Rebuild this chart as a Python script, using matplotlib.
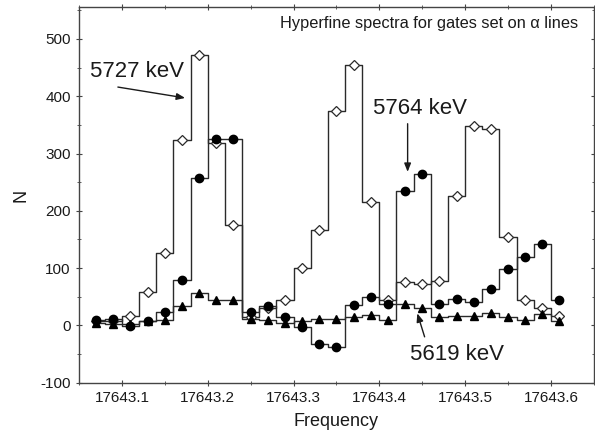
import matplotlib.pyplot as plt
from matplotlib.ticker import MultipleLocator

plt.rcParams['font.family'] = ['Liberation Sans', 'DejaVu Sans']
plt.rcParams['axes.unicode_minus'] = False

# Frequency channels (centres of the steps)
freq = [17643.07, 17643.09, 17643.11, 17643.13, 17643.15, 17643.17, 17643.19,
        17643.21, 17643.23, 17643.25, 17643.27, 17643.29, 17643.31, 17643.33,
        17643.35, 17643.37, 17643.39, 17643.41, 17643.43, 17643.45, 17643.47,
        17643.49, 17643.51, 17643.53, 17643.55, 17643.57, 17643.59, 17643.61]

# counts for each alpha gate
n_5727 = [7, 7, 16, 58, 127, 323, 472, 319, 176, 15, 30, 44, 101, 167,
          374, 455, 215, 44, 76, 73, 77, 225, 348, 342, 154, 45, 31, 16]
n_5764 = [9, 12, -1, 8, 24, 80, 257, 325, 325, 24, 34, 14, -2, -33,
          -37, 35, 50, 38, 234, 264, 37, 46, 41, 64, 98, 120, 142, 45]
n_5619 = [4, 3, 3, 7, 10, 33, 57, 44, 44, 12, 9, 4, 7, 12,
          12, 15, 18, 10, 37, 31, 14, 16, 16, 21, 15, 9, 20, 8]

xticks = [17643.1, 17643.2, 17643.3, 17643.4, 17643.5, 17643.6]
xtick_labels = ['17643.1', '17643.2', '17643.3', '17643.4', '17643.5', '17643.6']

line_col = '#2a2a2a'
text_col = '#1a1a1a'

fig = plt.figure(figsize=(5.95, 4.37), dpi=100)
ax = fig.add_axes([0.1328, 0.1243, 0.8652, 0.8587])

# step lines
for counts in (n_5727, n_5764, n_5619):
    ax.plot(freq, counts, drawstyle='steps-mid', color=line_col, lw=1.0, zorder=2)

# markers at channel centres
ax.plot(freq, n_5727, ls='none', marker='D', ms=5, mfc='white', mec=line_col, mew=0.9, zorder=3)
ax.plot(freq, n_5764, ls='none', marker='o', ms=6, mfc='black', mec='black', zorder=4)
ax.plot(freq, n_5619, ls='none', marker='^', ms=6, mfc='black', mec='black', zorder=5)

ax.set_xlim(17643.05, 17643.65)
ax.set_ylim(-100, 555)
ax.set_xticks(xticks)
ax.set_xticklabels(xtick_labels)
ax.xaxis.set_minor_locator(MultipleLocator(0.05))
ax.yaxis.set_major_locator(MultipleLocator(100))
ax.yaxis.set_minor_locator(MultipleLocator(50))

ax.tick_params(which='both', direction='inout', top=True, right=True,
               color='#444444', labelsize=11, labelcolor=text_col)
ax.tick_params(which='major', length=5)
ax.tick_params(which='minor', length=3)
for s in ax.spines.values():
    s.set_color('#444444')
    s.set_linewidth(1.0)

ax.set_xlabel('Frequency', fontsize=13, color=text_col, labelpad=6)
ax.set_ylabel('N', fontsize=13, color=text_col, labelpad=8)

ax.text(0.969, 0.958, 'Hyperfine spectra for gates set on α lines',
        transform=ax.transAxes, ha='right', va='center', fontsize=11.8, color=text_col)

# peak labels and their arrows
arrow = dict(arrowstyle='-|>,head_length=0.5,head_width=0.2', color=text_col, lw=1.0,
             shrinkA=0, shrinkB=0)
ax.text(17643.118, 443, '5727 keV', fontsize=16, color=text_col, ha='center', va='center')
ax.annotate('', xy=(17643.1736, 397), xytext=(17643.0953, 416), arrowprops=arrow)
ax.text(17643.447, 379, '5764 keV', fontsize=16, color=text_col, ha='center', va='center')
ax.annotate('', xy=(17643.433, 268), xytext=(17643.433, 352), arrowprops=arrow)
ax.text(17643.491, -50, '5619 keV', fontsize=16, color=text_col, ha='center', va='center')
ax.annotate('', xy=(17643.4443, 21), xytext=(17643.4528, -20), arrowprops=arrow)

fig.savefig('out.png', dpi=100)
